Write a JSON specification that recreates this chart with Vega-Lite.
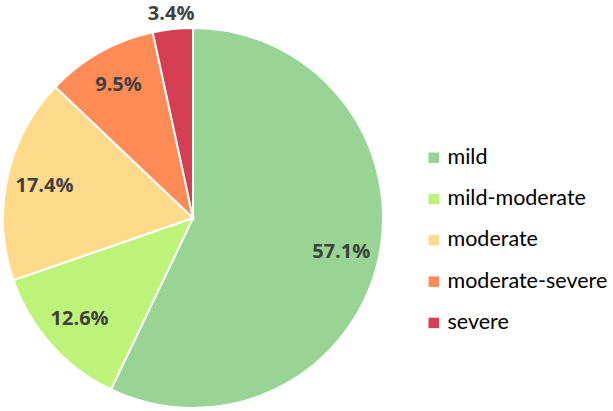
{
  "$schema": "https://vega.github.io/schema/vega-lite/v6.json",
  "width": 380,
  "height": 380,
  "autosize": {"type": "none"},
  "padding": {"left": 3, "top": 28, "right": 230, "bottom": 3},
  "background": "white",
  "config": {"view": {"stroke": null}, "font": "Lato"},
  "data": {
    "values": [
      {"category": "mild", "share": 0.571, "rank": 1},
      {"category": "mild-moderate", "share": 0.126, "rank": 2},
      {"category": "moderate", "share": 0.174, "rank": 3},
      {"category": "moderate-severe", "share": 0.095, "rank": 4},
      {"category": "severe", "share": 0.034, "rank": 5}
    ]
  },
  "encoding": {
    "theta": {"field": "share", "type": "quantitative", "stack": true},
    "order": {"field": "rank", "type": "quantitative"}
  },
  "layer": [
    {
      "mark": {"type": "arc", "stroke": "white", "strokeWidth": 2},
      "encoding": {
        "color": {
          "field": "category",
          "type": "nominal",
          "scale": {
            "domain": ["mild", "mild-moderate", "moderate", "moderate-severe", "severe"],
            "range": ["#98D594", "#BEF37A", "#FFDA8A", "#FF8C57", "#D63F53"]
          },
          "legend": {
            "title": null,
            "orient": "none",
            "legendX": 420,
            "legendY": 119,
            "symbolType": "square",
            "symbolSize": 110,
            "symbolStrokeWidth": 0,
            "labelFontSize": 21.5,
            "labelFont": "Lato",
            "labelColor": "#000000",
            "labelOffset": 3,
            "labelLimit": 400,
            "rowPadding": 18.3
          }
        }
      }
    },
    {
      "mark": {"type": "text", "radius": 152, "fontSize": 20, "fontWeight": "bold", "color": "#404040", "font": "Open Sans"},
      "encoding": {
        "text": {"field": "share", "type": "quantitative", "format": ".1%"},
        "opacity": {"condition": {"test": "datum.category === 'severe'", "value": 0}, "value": 1}
      }
    },
    {
      "mark": {"type": "text", "radius": 205, "fontSize": 20, "fontWeight": "bold", "color": "#404040", "font": "Open Sans"},
      "encoding": {
        "text": {"field": "share", "type": "quantitative", "format": ".1%"},
        "opacity": {"condition": {"test": "datum.category === 'severe'", "value": 1}, "value": 0}
      }
    }
  ]
}
